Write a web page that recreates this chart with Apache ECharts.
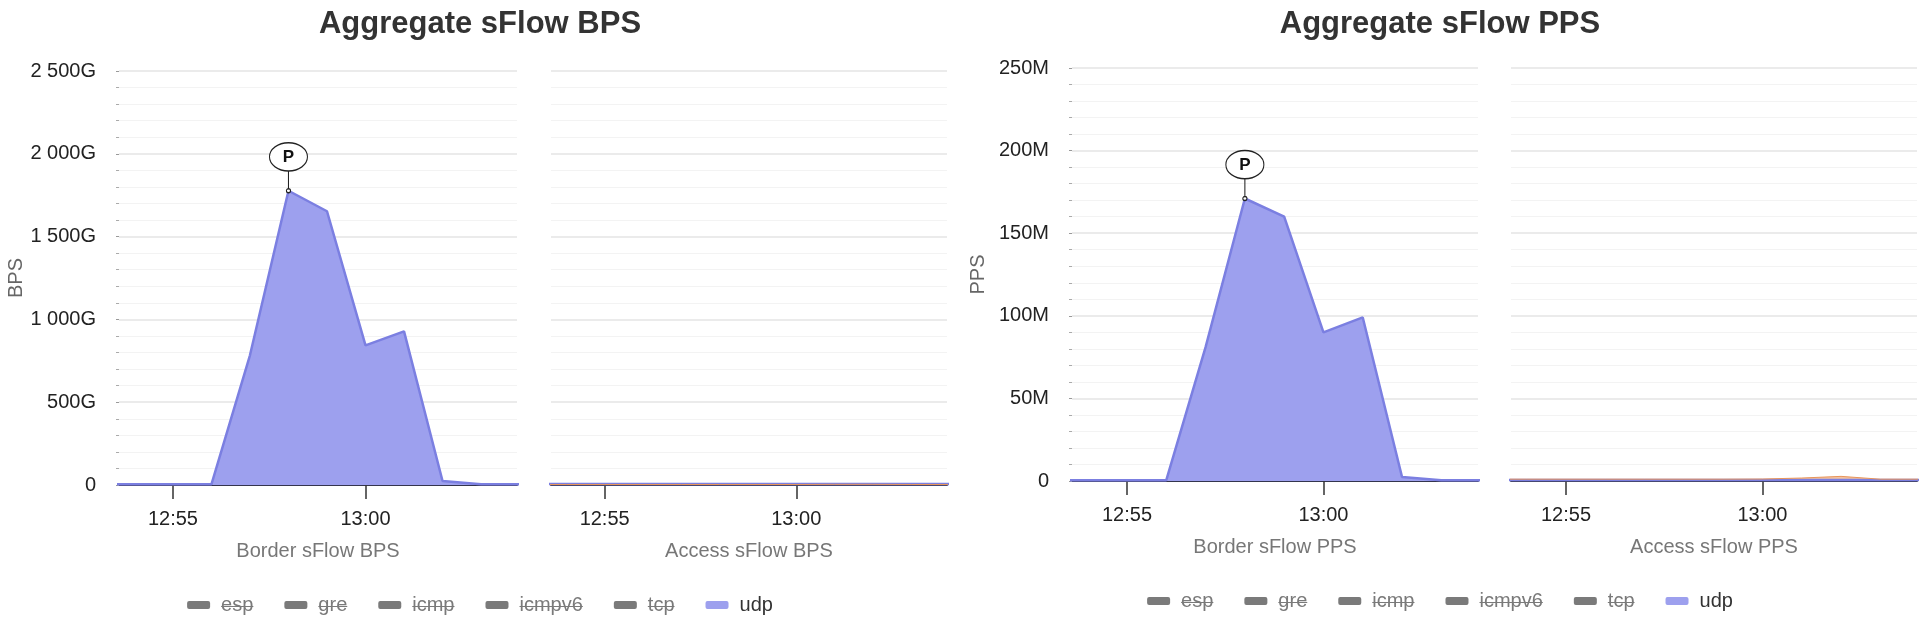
<!DOCTYPE html>
<html>
<head>
<meta charset="utf-8">
<title>Aggregate sFlow</title>
<script src="https://cdn.jsdelivr.net/npm/echarts@6/dist/echarts.min.js"></script>
<style>
	html, body { margin: 0; padding: 0; background: #fff; }
	.charts { display: flex; width: 1920px; height: 640px; }
	.charts div { width: 960px; height: 640px; }
</style>
</head>
<body>
<div class="charts">
	<div id="main"></div>
	<div id="main1"></div>
</div>
<script>
	// sample times (one sample per minute)
	var times = ['12:53', '12:54', '12:55', '12:56', '12:57', '12:58', '12:59', '13:00', '13:01', '13:02', '13:03', '13:04'];
	var axisStart = '12:53:36';
	var axisEnd = '13:03:56';
	var tickTimes = ['12:55', '13:00'];

	// BPS, in G
	var borderBpsUdp = [4, 4, 4, 4, 783, 1777, 1653, 843, 928, 24, 5, 4];
	var accessBpsUdp = [6, 6, 6, 6, 6, 6, 6, 6, 6, 6, 6, 6];
	var accessBpsOther = [3, 3, 3, 3, 3, 3, 3, 3, 4, 4, 3, 3];

	// PPS, in M
	var borderPpsUdp = [0.5, 0.5, 0.5, 0.5, 81, 171, 160, 90, 99, 2.4, 0.5, 0.5];
	var accessPpsUdp = [0.6, 0.6, 0.6, 0.6, 0.6, 0.6, 0.6, 0.6, 0.6, 0.6, 0.6, 0.6];
	var accessPpsOther = [1.1, 1.1, 1.1, 1.1, 1.1, 1.1, 1.1, 1.2, 1.8, 2.8, 1.1, 1.1];

	var protocols = ['esp', 'gre', 'icmp', 'icmpv6', 'tcp', 'udp'];
	var hiddenProtocols = ['esp', 'gre', 'icmp', 'icmpv6', 'tcp'];

	var font = 'Liberation Sans, Arial, Helvetica, sans-serif';
	var udpLine = '#7b7fe1';
	var udpFill = '#9da0ee';
	var otherLine = '#e8955a';
	var otherFill = '#f0b48a';

	// minutes since midnight
	function toTime(t) {
		var p = t.split(':');
		return +p[0] * 60 + +p[1] + (+(p[2] || 0)) / 60;
	}

	function pad(n) {
		return n < 10 ? '0' + n : '' + n;
	}

	function timeLabel(v) {
		var m = Math.round(v);
		return pad(Math.floor(m / 60)) + ':' + pad(m % 60);
	}

	function pairs(values) {
		return times.map(function(t, i) {
			return [toTime(t), values[i]];
		});
	}

	function spaced(v) {
		return String(v).replace(/\B(?=(\d{3})+(?!\d))/g, ' ');
	}

	var tickValues = tickTimes.map(toTime);

	// strike-through look for the switched off legend items
	var strike = {
		type: 'linear', x: 0, y: 0, x2: 0, y2: 1,
		colorStops: [
			{ offset: 0, color: 'rgba(0,0,0,0)' },
			{ offset: 0.54, color: 'rgba(0,0,0,0)' },
			{ offset: 0.54, color: '#7a7a7a' },
			{ offset: 0.62, color: '#7a7a7a' },
			{ offset: 0.62, color: 'rgba(0,0,0,0)' },
			{ offset: 1, color: 'rgba(0,0,0,0)' }
		]
	};

	// the "P" pin over the peak: ellipse, stem and a small dot
	var pinPath = 'path://M0.5,14.5 A18.5,14 0 1 1 37.5,14.5 A18.5,14 0 1 1 0.5,14.5 Z M19,28.5 L19,46 M17,48 A2,2 0 1 1 21,48 A2,2 0 1 1 17,48 Z';

	function xAxis(gridIndex, name) {
		return {
			gridIndex: gridIndex,
			type: 'value',
			min: toTime(axisStart),
			max: toTime(axisEnd),
			name: name,
			nameLocation: 'middle',
			nameGap: 56,
			nameTextStyle: { color: '#777', fontSize: 20, fontFamily: font },
			axisLine: { show: true, onZero: false, lineStyle: { color: '#34354d', width: 2 } },
			axisTick: { show: true, customValues: tickValues, length: 14, lineStyle: { color: '#333', width: 1.5 } },
			axisLabel: { customValues: tickValues, formatter: timeLabel, color: '#222', fontSize: 20, fontFamily: font, margin: 24 },
			splitLine: { show: false }
		};
	}

	function yAxis(gridIndex, max, interval, name, nameGap, fmt) {
		var first = gridIndex === 0;
		return {
			gridIndex: gridIndex,
			type: 'value',
			min: 0,
			max: max,
			interval: interval,
			name: first ? name : '',
			nameLocation: 'middle',
			nameGap: nameGap,
			nameTextStyle: { color: '#666', fontSize: 20, fontFamily: font },
			axisLine: { show: false },
			axisTick: { show: first, length: 3, lineStyle: { color: '#999' } },
			minorTick: { show: first, splitNumber: 5, length: 3, lineStyle: { color: '#aaa' } },
			axisLabel: { show: first, formatter: fmt, color: '#222', fontSize: 20, fontFamily: font, margin: 23 },
			splitLine: { lineStyle: { color: '#e4e4e4', width: 1.5 } },
			minorSplitLine: { show: true, lineStyle: { color: '#f3f3f3' } }
		};
	}

	function legend(top) {
		var selected = {};
		hiddenProtocols.forEach(function(p) { selected[p] = false; });
		return {
			top: top,
			left: 'center',
			icon: 'roundRect',
			itemWidth: 23,
			itemHeight: 8,
			itemGap: 31,
			inactiveColor: '#7a7a7a',
			data: protocols,
			selected: selected,
			formatter: function(name) {
				var style = hiddenProtocols.indexOf(name) >= 0 ? 's' : 'u';
				return '{g| }{' + style + '|' + name + '}';
			},
			textStyle: {
				fontSize: 20,
				fontFamily: font,
				color: '#333',
				rich: {
					g: { width: 6, fontSize: 20, lineHeight: 22 },
					s: { fontSize: 20, lineHeight: 22, backgroundColor: strike },
					u: { fontSize: 20, lineHeight: 22 }
				}
			}
		};
	}

	function buildSeries(border, access, other) {
		var list = hiddenProtocols.map(function(p) {
			return {
				name: p, type: 'line', xAxisIndex: 0, yAxisIndex: 0,
				showSymbol: false, data: pairs(times.map(function() { return 0; }))
			};
		});
		list.push({
			name: 'udp', type: 'line', xAxisIndex: 0, yAxisIndex: 0,
			showSymbol: false, silent: true,
			data: pairs(border),
			itemStyle: { color: udpFill },
			lineStyle: { color: udpLine, width: 2.5 },
			areaStyle: { color: udpFill, opacity: 1 },
			markPoint: {
				symbol: pinPath,
				symbolSize: [38, 50],
				symbolOffset: [0, -23],
				itemStyle: { color: '#fff', borderColor: '#222', borderWidth: 1.2 },
				label: { formatter: 'P', color: '#111', fontWeight: 'bold', fontSize: 17, fontFamily: font, offset: [0, -10.5] },
				data: [{ type: 'max' }]
			}
		});
		list.push({
			name: 'udp', type: 'line', xAxisIndex: 1, yAxisIndex: 1,
			showSymbol: false, silent: true,
			data: pairs(access),
			itemStyle: { color: udpFill },
			lineStyle: { color: udpLine, width: 2.5 },
			areaStyle: { color: udpFill, opacity: 1 }
		});
		list.push({
			name: 'other', type: 'line', xAxisIndex: 1, yAxisIndex: 1,
			showSymbol: false, silent: true,
			data: pairs(other),
			itemStyle: { color: otherFill },
			lineStyle: { color: otherLine, width: 1 },
			areaStyle: { color: otherFill, opacity: 0.8 }
		});
		return list;
	}

	var myChart = echarts.init(document.getElementById('main'));
	var myChart1 = echarts.init(document.getElementById('main1'));

	// BPS
	var option = {
		animation: false,
		backgroundColor: '#ffffff',
		title: {
			text: 'Aggregate sFlow BPS',
			left: 'center',
			top: 4,
			textStyle: { fontSize: 31, fontWeight: 'bold', color: '#333', fontFamily: font }
		},
		legend: legend(590),
		grid: [
			{ left: 119, top: 71, width: 398, height: 414 },
			{ left: 551, top: 71, width: 396, height: 414 }
		],
		xAxis: [xAxis(0, 'Border sFlow BPS'), xAxis(1, 'Access sFlow BPS')],
		yAxis: [
			yAxis(0, 2500, 500, 'BPS', 92, function(v) { return v === 0 ? '0' : spaced(v) + 'G'; }),
			yAxis(1, 2500, 500)
		],
		series: buildSeries(borderBpsUdp, accessBpsUdp, accessBpsOther)
	};

	// PPS
	var option1 = {
		animation: false,
		backgroundColor: '#ffffff',
		title: {
			text: 'Aggregate sFlow PPS',
			left: 'center',
			top: 4,
			textStyle: { fontSize: 31, fontWeight: 'bold', color: '#333', fontFamily: font }
		},
		legend: legend(586),
		grid: [
			{ left: 112, top: 68, width: 406, height: 413 },
			{ left: 551, top: 68, width: 406, height: 413 }
		],
		xAxis: [xAxis(0, 'Border sFlow PPS'), xAxis(1, 'Access sFlow PPS')],
		yAxis: [
			yAxis(0, 250, 50, 'PPS', 84, function(v) { return v === 0 ? '0' : v + 'M'; }),
			yAxis(1, 250, 50)
		],
		series: buildSeries(borderPpsUdp, accessPpsUdp, accessPpsOther)
	};

	myChart.setOption(option);
	myChart1.setOption(option1);
</script>
</body>
</html>
